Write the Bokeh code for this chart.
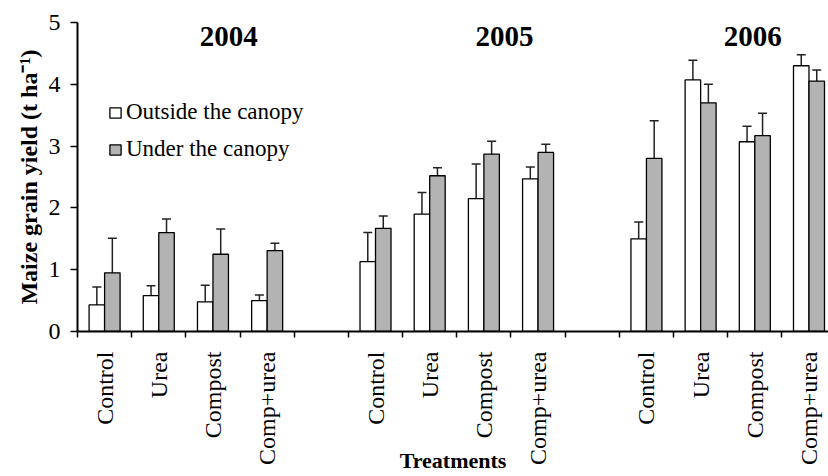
import math
from bokeh.plotting import figure
from bokeh.models import (Range1d, FixedTicker, ColumnDataSource, Whisker, TeeHead,
                          Label, Legend, LegendItem)
from bokeh.embed import file_html
from bokeh.resources import INLINE

# ---- data ----
years = ["2004", "2005", "2006"]
treatments = ["Control", "Urea", "Compost", "Comp+urea"]
outside = [0.43, 0.58, 0.48, 0.50, 1.13, 1.90, 2.15, 2.47, 1.50, 4.07, 3.07, 4.30]
outside_err = [0.29, 0.16, 0.27, 0.09, 0.47, 0.35, 0.56, 0.19, 0.27, 0.32, 0.25, 0.18]
under = [0.95, 1.60, 1.25, 1.31, 1.67, 2.52, 2.87, 2.90, 2.80, 3.70, 3.17, 4.05]
under_err = [0.56, 0.22, 0.41, 0.12, 0.20, 0.13, 0.21, 0.13, 0.61, 0.30, 0.36, 0.18]
y_ticks = [0, 1, 2, 3, 4, 5]

FONT = "Liberation Serif"
GRAY = "#b3b3b3"
BW = 0.286  # bar width in slot units

# slot index of each bar group: 4 treatments per year, one empty slot between years
slots = []
for yi in range(len(years)):
    for ti in range(len(treatments)):
        slots.append(yi * (len(treatments) + 1) + ti)
centers = [s + 0.5 for s in slots]
n_slots = len(years) * (len(treatments) + 1) - 1

src_out = ColumnDataSource(dict(
    x=[c - BW / 2 for c in centers], top=outside,
    upper=[v + e for v, e in zip(outside, outside_err)],
    lower=[v - e for v, e in zip(outside, outside_err)]))
src_und = ColumnDataSource(dict(
    x=[c + BW / 2 for c in centers], top=under,
    upper=[v + e for v, e in zip(under, under_err)],
    lower=[v - e for v, e in zip(under, under_err)]))

p = figure(width=828, height=476, output_backend="svg", toolbar_location=None,
           x_range=Range1d(0, 13.86), y_range=Range1d(0, 5),
           min_border_left=77, min_border_right=0, min_border_top=22, min_border_bottom=145)
p.outline_line_color = None
p.xgrid.visible = False
p.ygrid.visible = False
p.background_fill_color = "white"

r1 = p.vbar(x="x", top="top", width=BW, bottom=0, source=src_out,
            fill_color="white", line_color="black", line_width=1.3)
r2 = p.vbar(x="x", top="top", width=BW, bottom=0, source=src_und,
            fill_color=GRAY, line_color="black", line_width=1.3)

for src in (src_out, src_und):
    w = Whisker(source=src, base="x", upper="upper", lower="lower", dimension="height",
                line_color="#222222", line_width=1.5,
                upper_head=TeeHead(size=9, line_color="#222222", line_width=1.5),
                lower_head=TeeHead(size=9, line_color="#222222", line_width=1.5))
    p.add_layout(w)

# x axis: labels at slot centres, ticks at slot boundaries
xa = p.xaxis[0]
xa.ticker = FixedTicker(ticks=centers, minor_ticks=list(range(n_slots)))
xa.major_label_overrides = {c: treatments[i % len(treatments)] for i, c in enumerate(centers)}
xa.major_label_orientation = math.pi / 2
xa.major_tick_line_color = None
xa.major_tick_out = 6
xa.major_tick_in = 0
xa.minor_tick_out = 6
xa.minor_tick_in = 0
xa.minor_tick_line_color = "black"
xa.minor_tick_line_width = 1.5
xa.axis_line_width = 2
xa.axis_line_color = "black"
xa.major_label_text_font = FONT
xa.major_label_text_font_size = "24px"
xa.major_label_text_color = "black"
xa.major_label_standoff = 14
xa.axis_label = "Treatments"
xa.axis_label_text_font = FONT
xa.axis_label_text_font_size = "22px"
xa.axis_label_text_font_style = "bold"
xa.axis_label_text_color = "black"
xa.axis_label_standoff = -20

ya = p.yaxis[0]
ya.ticker = FixedTicker(ticks=y_ticks)
ya.minor_tick_line_color = None
ya.major_tick_out = 7
ya.major_tick_in = 0
ya.major_tick_line_width = 1.5
ya.axis_line_width = 2
ya.axis_line_color = "black"
ya.major_label_text_font = FONT
ya.major_label_text_font_size = "24px"
ya.major_label_text_color = "black"
ya.major_label_standoff = 10
ya.axis_label = "Maize grain yield (t ha\u207b\u00b9)"
ya.axis_label_text_font = FONT
ya.axis_label_text_font_size = "24px"
ya.axis_label_text_font_style = "bold"
ya.axis_label_text_color = "black"
ya.axis_label_standoff = 4

# year labels
year_x = [2.79, 7.88, 12.46]
for yx, yr in zip(year_x, years):
    p.add_layout(Label(x=yx, y=4.78, text=yr, text_align="center", text_baseline="middle",
                       text_font=FONT, text_font_size="29px", text_font_style="bold",
                       text_color="black"))

legend = Legend(items=[LegendItem(label="Outside the canopy", renderers=[r1]),
                       LegendItem(label="Under the canopy", renderers=[r2])],
                location=(31, 169), padding=0, margin=0, spacing=11,
                glyph_width=14, glyph_height=13, label_standoff=4,
                label_text_font=FONT, label_text_font_size="23px",
                label_text_color="black", border_line_color=None,
                background_fill_alpha=0)
p.add_layout(legend)

open("out.html", "w").write(file_html(p, INLINE))
